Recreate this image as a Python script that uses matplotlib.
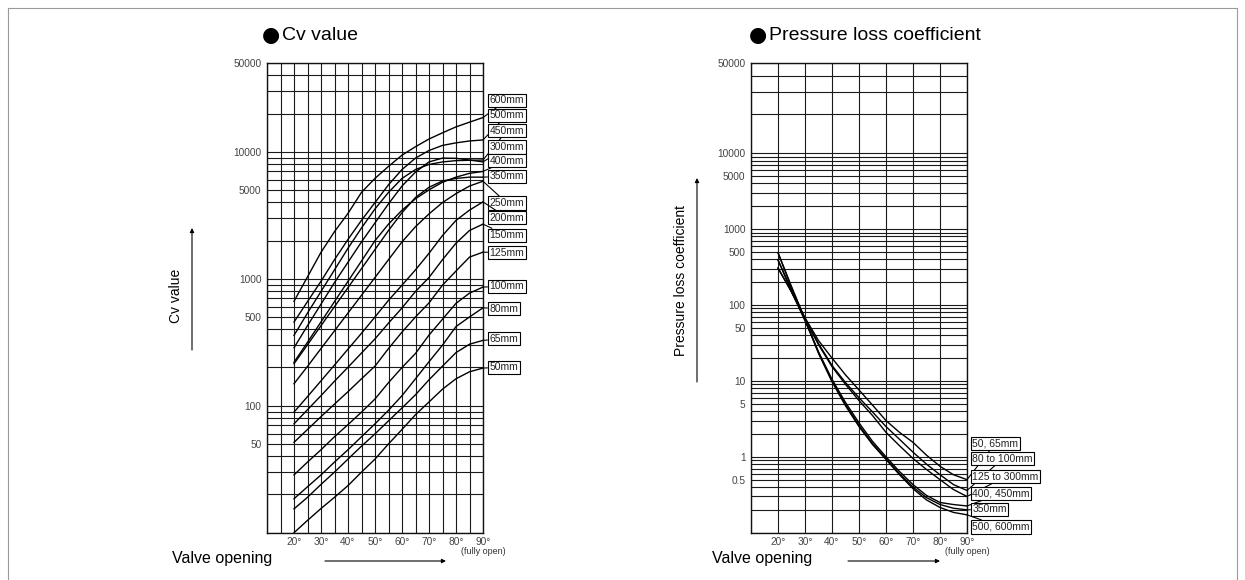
import numpy as np
import matplotlib
matplotlib.use("Agg")
import matplotlib.pyplot as plt
from matplotlib.ticker import FixedLocator, FixedFormatter, NullFormatter
from matplotlib.patches import FancyArrowPatch
from matplotlib.lines import Line2D

plt.rcParams["font.family"] = ["Liberation Sans", "DejaVu Sans"]

# valve opening (degrees) for every curve
angles = [20, 25, 30, 35, 40, 45, 50, 55, 60, 65, 70, 75, 80, 85, 90]

# Cv value curves
cv_600 = [664, 1035, 1615, 2350, 3270, 4790, 6170, 7670, 9400, 10960, 12600, 14100, 15700, 17100, 18600]
cv_500 = [456, 661, 955, 1413, 2042, 2884, 3981, 5495, 7244, 8913, 10230, 11220, 11750, 12160, 12390]
cv_450 = [358, 537, 794, 1175, 1738, 2512, 3548, 4786, 6166, 7244, 7943, 8318, 8511, 8570, 8610]
cv_300 = [286, 427, 631, 933, 1349, 1950, 2754, 3890, 5370, 6918, 8318, 8913, 8872, 8610, 8318]
cv_400 = [220, 316, 457, 661, 955, 1380, 1995, 2692, 3467, 4266, 5012, 5754, 6310, 6761, 7000]
cv_350 = [214, 302, 427, 603, 851, 1202, 1698, 2399, 3311, 4365, 5248, 5888, 6166, 6310, 6310]
cv_250 = [149, 204, 282, 389, 537, 741, 1023, 1413, 1950, 2570, 3240, 3980, 4680, 5370, 5860]
cv_200 = [89, 118, 157, 209, 279, 372, 500, 676, 890, 1175, 1585, 2190, 2880, 3470, 4030]
cv_150 = [72, 93, 120, 156, 201, 260, 336, 447, 589, 794, 1023, 1413, 1905, 2399, 2692]
cv_125 = [51.5, 65, 82, 103, 129, 163, 205, 282, 380, 500, 645, 890, 1150, 1480, 1620]
cv_100 = [28.5, 36, 45, 57, 71, 89, 113, 152, 200, 258, 360, 480, 640, 770, 860]
cv_80 = [18.5, 23, 28.5, 36, 45, 57, 72, 92, 120, 163, 222, 300, 420, 500, 590]
cv_65 = [15.4, 19, 24, 30, 38, 48, 60, 76, 96, 122, 160, 205, 262, 305, 327]
cv_50 = [10, 12.5, 15.5, 19, 23.5, 30, 38, 50, 65, 85, 107, 135, 163, 185, 198]

cv_names = ["600mm", "500mm", "450mm", "300mm", "400mm", "350mm", "250mm",
            "200mm", "150mm", "125mm", "100mm", "80mm", "65mm", "50mm"]
cv_series = [cv_600, cv_500, cv_450, cv_300, cv_400, cv_350, cv_250,
             cv_200, cv_150, cv_125, cv_100, cv_80, cv_65, cv_50]
# height of each name box on the Cv scale
cv_label_y = [25500, 19400, 14600, 10900, 8480, 6420, 3950,
              3030, 2200, 1600, 871, 581, 337, 201]

cv_ticks = [50, 100, 500, 1000, 5000, 10000, 50000]

# pressure loss coefficient curves
plc_50_65 = [304, 150, 68, 34, 20, 12, 7.6, 4.8, 3.0, 2.1, 1.55, 1.05, 0.75, 0.58, 0.50]
plc_80_100 = [310, 148, 66, 31, 16, 9.5, 6.0, 3.9, 2.5, 1.7, 1.15, 0.80, 0.58, 0.43, 0.36]
plc_125_300 = [392, 160, 65, 30, 15.4, 9.0, 5.5, 3.5, 2.1, 1.4, 0.95, 0.68, 0.50, 0.37, 0.30]
plc_400_450 = [392, 150, 62, 24, 10.5, 5.2, 2.8, 1.6, 1.0, 0.64, 0.43, 0.31, 0.25, 0.235, 0.225]
plc_350 = [489, 170, 64, 24, 10, 4.9, 2.6, 1.5, 0.95, 0.60, 0.40, 0.29, 0.235, 0.21, 0.20]
plc_500_600 = [489, 175, 65, 23, 9.75, 4.7, 2.5, 1.45, 0.92, 0.58, 0.38, 0.27, 0.215, 0.185, 0.172]

plc_names = ["50, 65mm", "80 to 100mm", "125 to 300mm", "400, 450mm", "350mm", "500, 600mm"]
plc_series = [plc_50_65, plc_80_100, plc_125_300, plc_400_450, plc_350, plc_500_600]
plc_label_y = [1.51, 0.944, 0.547, 0.33, 0.203, 0.119]

plc_ticks = [0.5, 1, 5, 10, 50, 100, 500, 1000, 5000, 10000, 50000]


def fwd(v):
    # the paper stretches the decade above 10000
    t = np.log10(np.maximum(v, 1e-12))
    return np.where(t > 4, 4 + (t - 4) * 1.7, t)


def inv(t):
    t = np.asarray(t, dtype=float)
    return np.where(t > 4, 10 ** (4 + (t - 4) / 1.7), 10 ** t)


W, H = 1245, 580
fig = plt.figure(figsize=(W / 100, H / 100), dpi=100)


def fxy(x, y):
    return x / W, 1 - y / H


def style_axes(ax, ticks, lo_dec, hi, xminor):
    ax.set_xlim(10, 90)
    minor = [k * 10.0 ** n for n in range(lo_dec, 5) for k in range(1, 10) if k * 10.0 ** n <= hi]
    ax.yaxis.set_major_locator(FixedLocator(ticks))
    ax.yaxis.set_major_formatter(FixedFormatter([f"{t:g}" for t in ticks]))
    ax.yaxis.set_minor_locator(FixedLocator(minor))
    ax.yaxis.set_minor_formatter(NullFormatter())
    ax.xaxis.set_major_locator(FixedLocator(range(20, 91, 10)))
    ax.xaxis.set_major_formatter(FixedFormatter([f"{a}°" for a in range(20, 91, 10)]))
    ax.xaxis.set_minor_locator(FixedLocator(xminor))
    ax.grid(which="both", color="#1a1a1a", lw=0.8)
    ax.tick_params(which="both", length=0, labelsize=7.3, colors="#444")
    ax.tick_params(axis="y", pad=4)
    ax.tick_params(axis="x", pad=3)
    for s in ax.spines.values():
        s.set_color("#111")
        s.set_linewidth(1)
    ax.text(90, -0.03, "(fully open)", transform=ax.get_xaxis_transform(),
            ha="center", va="top", fontsize=6.5, color="#333")


# ---- Cv value ----
ax1 = fig.add_axes([267 / W, 1 - 532.7 / H, 216 / W, 469.7 / H])
ax1.set_yscale("log")
ax1.set_ylim(10, 50000)
style_axes(ax1, cv_ticks, 1, 50000, range(10, 91, 5))

for name, vals, ly in zip(cv_names, cv_series, cv_label_y):
    ax1.plot(angles, vals, color="k", lw=1)
    ax1.annotate(name, xy=(90, vals[-1]), xytext=(92.4, ly), textcoords="data",
                 ha="left", va="center", fontsize=7.5, color="#222",
                 bbox=dict(boxstyle="square,pad=0.15", fc="white", ec="k", lw=0.8),
                 arrowprops=dict(arrowstyle="-", lw=0.8, color="k", shrinkA=0, shrinkB=0),
                 annotation_clip=False)

# ---- Pressure loss coefficient ----
ax2 = fig.add_axes([751 / W, 1 - 532.7 / H, 216 / W, 469.7 / H])
ax2.set_yscale("function", functions=(fwd, inv))
ax2.set_ylim(0.1, 50000)
style_axes(ax2, plc_ticks, -1, 50000, range(10, 91, 10))

for name, vals, ly in zip(plc_names, plc_series, plc_label_y):
    ax2.plot(angles, vals, color="k", lw=1)
    ax2.annotate(name, xy=(90, vals[-1]), xytext=(92.0, ly), textcoords="data",
                 ha="left", va="center", fontsize=7.5, color="#222",
                 bbox=dict(boxstyle="square,pad=0.15", fc="white", ec="k", lw=0.8),
                 arrowprops=dict(arrowstyle="-", lw=0.8, color="k", shrinkA=0, shrinkB=0),
                 annotation_clip=False)

# titles (big bullet + text) and axis captions
fig.text(*fxy(262, 35), "●", fontsize=15, ha="left", va="center", family="DejaVu Sans")
fig.text(*fxy(282, 36), "Cv value", fontsize=14, ha="left", va="center")
fig.text(*fxy(749, 35), "●", fontsize=15, ha="left", va="center", family="DejaVu Sans")
fig.text(*fxy(769, 36), "Pressure loss coefficient", fontsize=14, ha="left", va="center")

fig.text(*fxy(176, 296), "Cv value", rotation=90, fontsize=10, ha="center", va="center")
fig.text(*fxy(681, 280), "Pressure loss coefficient", rotation=90, fontsize=10,
         ha="center", va="center")
fig.text(*fxy(172, 558), "Valve opening", fontsize=11.5, ha="left", va="center")
fig.text(*fxy(712, 558), "Valve opening", fontsize=11.5, ha="left", va="center")


def arrow(p0, p1):
    fig.add_artist(FancyArrowPatch(fxy(*p0), fxy(*p1), transform=fig.transFigure,
                                   arrowstyle="-|>", mutation_scale=6, lw=0.8,
                                   color="k", shrinkA=0, shrinkB=0))


arrow((192, 350), (192, 228))
arrow((697, 382), (697, 178))
arrow((325, 561), (446, 561))
arrow((848, 561), (940, 561))

# thin page frame
for xs, ys in [([8, 8], [8, 580]), ([8, 1237], [8, 8]), ([1237, 1237], [8, 580])]:
    fig.add_artist(Line2D([x / W for x in xs], [1 - y / H for y in ys],
                          transform=fig.transFigure, color="#9a9a9a", lw=0.8))

fig.savefig("out.png", dpi=100)
